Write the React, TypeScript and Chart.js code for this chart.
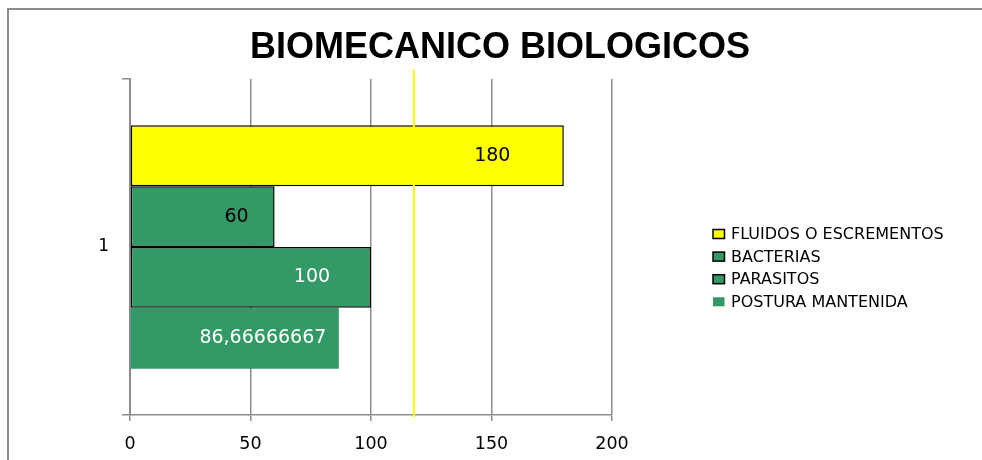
import React, { useEffect, useRef } from "react";
import { Chart, registerables } from "chart.js";

Chart.register(...registerables);

const TITLE = "BIOMECANICO BIOLOGICOS";
const CATEGORIES = ["1"];
const SERIES_NAMES = ["FLUIDOS O ESCREMENTOS", "BACTERIAS", "PARASITOS", "POSTURA MANTENIDA"];
const FLUIDOS = [180];
const BACTERIAS = [60];
const PARASITOS = [100];
const POSTURA = [86.66666667];
const X_TICKS = [0, 50, 100, 150, 200];
const REFERENCE_LINE = 117.8;

const SERIES_COLORS = ["#FFFF00", "#339966", "#339966", "#339966"];
const SERIES_BORDERS = [1.5, 1.5, 1.5, 0];
const LABEL_COLORS = ["#000000", "#000000", "#FFFFFF", "#FFFFFF"];
const LABEL_SHIFT = [71.5, 38, 59, 76];

const GRID = "#8C8C8C";
const TEXT_FONT = "'DejaVu Sans', sans-serif";

function fmt(v: number): string {
  return String(v).replace(".", ",");
}

export default function App() {
  const ref = useRef<HTMLCanvasElement | null>(null);

  useEffect(() => {
    const canvas = ref.current;
    if (!canvas) return;
    const seriesValues = [FLUIDOS, BACTERIAS, PARASITOS, POSTURA];

    const decor = {
      id: "decor",
      beforeDraw(chart: any) {
        const ctx = chart.ctx;
        ctx.save();
        ctx.fillStyle = "#FFFFFF";
        ctx.fillRect(0, 0, chart.width, chart.height);
        ctx.strokeStyle = GRID;
        ctx.lineWidth = 2;
        ctx.beginPath();
        ctx.moveTo(8, chart.height + 5);
        ctx.lineTo(8, 9);
        ctx.lineTo(chart.width + 5, 9);
        ctx.stroke();
        ctx.restore();
      },
      afterDraw(chart: any) {
        const ctx = chart.ctx;
        const xs = chart.scales.x;
        const area = chart.chartArea;
        ctx.save();
        // reference line
        const rx = xs.getPixelForValue(REFERENCE_LINE);
        ctx.strokeStyle = "#FFFF00";
        ctx.lineWidth = 2;
        ctx.beginPath();
        ctx.moveTo(rx, area.top - 9);
        ctx.lineTo(rx, area.bottom + 2);
        ctx.stroke();

        // data labels
        ctx.font = `19px ${TEXT_FONT}`;
        ctx.textAlign = "center";
        ctx.textBaseline = "middle";
        chart.data.datasets.forEach((ds: any, i: number) => {
          const meta = chart.getDatasetMeta(i);
          meta.data.forEach((bar: any, j: number) => {
            const v = ds.data[j];
            ctx.fillStyle = LABEL_COLORS[i];
            ctx.fillText(fmt(v), xs.getPixelForValue(v) - LABEL_SHIFT[i], bar.y);
          });
        });

        // title
        ctx.fillStyle = "#000000";
        ctx.font = "bold 36px 'Liberation Sans', Arial, sans-serif";
        ctx.textAlign = "center";
        ctx.textBaseline = "alphabetic";
        ctx.fillText(TITLE, 500, 58);

        // legend
        ctx.font = `16px ${TEXT_FONT}`;
        ctx.textAlign = "left";
        ctx.textBaseline = "middle";
        chart.data.datasets.forEach((ds: any, i: number) => {
          const y = 234 + i * 22.6;
          ctx.fillStyle = SERIES_COLORS[i];
          ctx.fillRect(713, y - 4.5, 11.5, 9);
          if (SERIES_BORDERS[i] > 0) {
            ctx.strokeStyle = "#000000";
            ctx.lineWidth = 1.5;
            ctx.strokeRect(713, y - 4.5, 11.5, 9);
          }
          ctx.fillStyle = "#000000";
          ctx.fillText(ds.label, 731, y + 1);
        });
        ctx.restore();
      },
    };

    const chart = new Chart(canvas, {
      type: "bar",
      data: {
        labels: CATEGORIES,
        datasets: seriesValues.map((vals, i) => ({
          label: SERIES_NAMES[i],
          data: vals,
          backgroundColor: SERIES_COLORS[i],
          borderColor: "#000000",
          borderWidth: SERIES_BORDERS[i],
          borderSkipped: false,
          categoryPercentage: 0.724,
          barPercentage: 1,
        })),
      },
      options: {
        indexAxis: "y",
        animation: false,
        responsive: false,
        devicePixelRatio: 1,
        layout: { padding: { top: 79, right: 370, left: 0, bottom: 0 } },
        plugins: {
          legend: { display: false },
          title: { display: false },
          tooltip: { enabled: false },
        },
        scales: {
          x: {
            min: 0,
            max: 200,
            afterBuildTicks: (scale: any) => {
              scale.ticks = X_TICKS.map((v) => ({ value: v }));
            },
            afterFit: (scale: any) => {
              scale.height = 45;
            },
            grid: {
              color: GRID,
              lineWidth: 1.5,
              tickLength: 6,
              drawTicks: true,
            },
            border: { color: GRID, width: 1.5 },
            ticks: {
              color: "#000000",
              font: { family: TEXT_FONT, size: 17.5 },
              padding: 13,
              maxRotation: 0,
            },
          },
          y: {
            afterFit: (scale: any) => {
              scale.width = 130;
            },
            grid: {
              offset: true,
              drawOnChartArea: false,
              color: GRID,
              lineWidth: 1.5,
              tickLength: 8,
            },
            border: { color: GRID, width: 2 },
            ticks: {
              color: "#000000",
              font: { family: TEXT_FONT, size: 17 },
              padding: 13,
            },
          },
        },
      },
      plugins: [decor],
    } as any);

    return () => chart.destroy();
  }, []);

  return (
    <div style={{ position: "absolute", left: 0, top: 0, width: 982, height: 460 }}>
      <canvas ref={ref} width={982} height={460} style={{ display: "block", width: 982, height: 460 }} />
    </div>
  );
}
